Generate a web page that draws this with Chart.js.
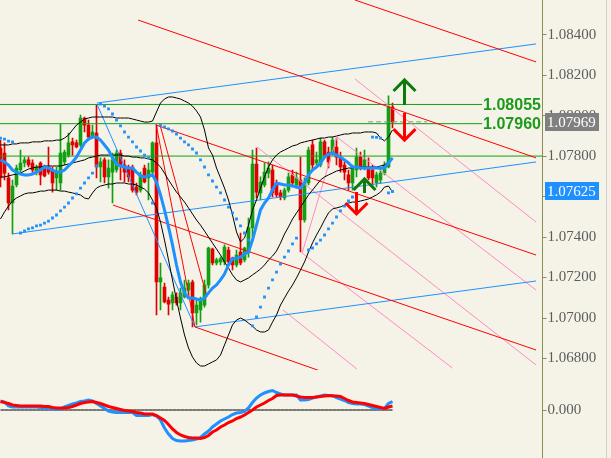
<!DOCTYPE html>
<html lang="en">
<head>
    <meta charset="UTF-8">
    <title>EURUSD chart</title>
    <script src="https://cdn.jsdelivr.net/npm/chart.js"></script>
    <style>
        body {
            margin: 0;
            background-color: #f5f3e7;
            overflow: hidden;
        }

        .panel {
            position: absolute;
            left: 0;
        }
    </style>
</head>
<body>

    <canvas id="mainChart" class="panel" width="611" height="370" style="top:0"></canvas>
    <canvas id="macdChart" class="panel" width="611" height="88" style="top:370px"></canvas>

    <script>
        // Candles, one per bar
        const opens = [
            1.07840, 1.07815, 1.07692, 1.07568, 1.07657, 1.07731, 1.07766, 1.07781, 1.07766, 1.07721,
            1.07766, 1.07741, 1.07746, 1.07731, 1.07692, 1.07667, 1.07771, 1.07805, 1.07870, 1.07865,
            1.07855, 1.07988, 1.07953, 1.07894, 1.07914, 1.07746, 1.07781, 1.07697, 1.07721, 1.07731,
            1.07815, 1.07756, 1.07741, 1.07746, 1.07647, 1.07632, 1.07741, 1.07692, 1.07721, 1.07865,
            1.07178, 1.07153, 1.07089, 1.07074, 1.07104, 1.07074, 1.07104, 1.07138, 1.07178, 1.07025,
            1.07040, 1.07064, 1.07163, 1.07341, 1.07272, 1.07277, 1.07277, 1.07336, 1.07296, 1.07262,
            1.07326, 1.07287, 1.07326, 1.07445, 1.07761, 1.07618, 1.07657, 1.07716, 1.07731, 1.07667,
            1.07618, 1.07593, 1.07632, 1.07707, 1.07657, 1.07682, 1.07484, 1.07667, 1.07855, 1.07766,
            1.07756, 1.07870, 1.07820, 1.07815, 1.07845, 1.07791, 1.07756, 1.07707, 1.07667, 1.07731,
            1.07795, 1.07741, 1.07741, 1.07731, 1.07667, 1.07682, 1.07716, 1.07746, 1.08042
        ];
        const highs = [
            1.07879, 1.07865, 1.07716, 1.07682, 1.07756, 1.07830, 1.07795, 1.07795, 1.07781, 1.07756,
            1.07771, 1.07756, 1.07845, 1.07746, 1.07746, 1.07958, 1.07830, 1.07914, 1.07889, 1.07879,
            1.08003, 1.07993, 1.07978, 1.07953, 1.08052, 1.07791, 1.07791, 1.07781, 1.07815, 1.07830,
            1.07830, 1.07781, 1.07756, 1.07756, 1.07667, 1.07721, 1.07756, 1.07766, 1.07870, 1.07953,
            1.07272, 1.07173, 1.07104, 1.07129, 1.07124, 1.07148, 1.07188, 1.07188, 1.07188, 1.07089,
            1.07104, 1.07188, 1.07351, 1.07346, 1.07296, 1.07301, 1.07361, 1.07351, 1.07301, 1.07336,
            1.07420, 1.07351, 1.07494, 1.07830, 1.07840, 1.07697, 1.07766, 1.07771, 1.07756, 1.07682,
            1.07632, 1.07642, 1.07716, 1.07731, 1.07721, 1.07795, 1.07692, 1.07845, 1.07879, 1.07820,
            1.07889, 1.07879, 1.07845, 1.07894, 1.07889, 1.07820, 1.07771, 1.07731, 1.07756, 1.07840,
            1.07820, 1.07830, 1.07791, 1.07756, 1.07721, 1.07741, 1.07771, 1.08097, 1.08062
        ];
        const lows = [
            1.07647, 1.07682, 1.07534, 1.07415, 1.07647, 1.07721, 1.07746, 1.07746, 1.07721, 1.07707,
            1.07657, 1.07697, 1.07711, 1.07622, 1.07632, 1.07632, 1.07756, 1.07795, 1.07805, 1.07840,
            1.07845, 1.07919, 1.07889, 1.07889, 1.07692, 1.07672, 1.07667, 1.07642, 1.07568, 1.07721,
            1.07682, 1.07672, 1.07672, 1.07622, 1.07608, 1.07622, 1.07667, 1.07583, 1.07711, 1.07015,
            1.07040, 1.07074, 1.07015, 1.07040, 1.07064, 1.07040, 1.07099, 1.07114, 1.06956, 1.06966,
            1.06980, 1.07054, 1.07148, 1.07262, 1.07262, 1.07262, 1.07262, 1.07262, 1.07237, 1.07252,
            1.07262, 1.07277, 1.07301, 1.07400, 1.07593, 1.07583, 1.07647, 1.07692, 1.07598, 1.07598,
            1.07583, 1.07583, 1.07622, 1.07657, 1.07642, 1.07326, 1.07474, 1.07657, 1.07731, 1.07756,
            1.07746, 1.07795, 1.07741, 1.07805, 1.07756, 1.07721, 1.07682, 1.07632, 1.07632, 1.07697,
            1.07731, 1.07731, 1.07682, 1.07647, 1.07647, 1.07667, 1.07707, 1.07741, 1.07939
        ];
        const closes = [
            1.07692, 1.07716, 1.07568, 1.07652, 1.07741, 1.07766, 1.07781, 1.07756, 1.07731, 1.07746,
            1.07707, 1.07702, 1.07721, 1.07667, 1.07721, 1.07815, 1.07820, 1.07865, 1.07855, 1.07845,
            1.07988, 1.07953, 1.07894, 1.07919, 1.07746, 1.07771, 1.07697, 1.07741, 1.07781, 1.07815,
            1.07756, 1.07721, 1.07697, 1.07632, 1.07622, 1.07707, 1.07672, 1.07731, 1.07865, 1.07178,
            1.07198, 1.07079, 1.07069, 1.07114, 1.07074, 1.07124, 1.07148, 1.07173, 1.07025, 1.07064,
            1.07089, 1.07163, 1.07346, 1.07272, 1.07287, 1.07292, 1.07351, 1.07277, 1.07262, 1.07311,
            1.07272, 1.07346, 1.07445, 1.07761, 1.07622, 1.07672, 1.07721, 1.07741, 1.07618, 1.07608,
            1.07598, 1.07632, 1.07697, 1.07667, 1.07692, 1.07484, 1.07667, 1.07830, 1.07756, 1.07781,
            1.07870, 1.07805, 1.07771, 1.07879, 1.07795, 1.07746, 1.07721, 1.07667, 1.07741, 1.07795,
            1.07746, 1.07781, 1.07692, 1.07692, 1.07707, 1.07716, 1.07756, 1.08042, 1.07969
        ];

        // Moving average (blue, thick)
        const maLine = [
            1.07781, 1.07771, 1.07756, 1.07731, 1.07721, 1.07711, 1.07707, 1.07707, 1.07711, 1.07721,
            1.07731, 1.07746, 1.07741, 1.07731, 1.07721, 1.07721, 1.07731, 1.07751, 1.07771, 1.07795,
            1.07830, 1.07865, 1.07884, 1.07894, 1.07894, 1.07879, 1.07855, 1.07830, 1.07791, 1.07761,
            1.07751, 1.07746, 1.07741, 1.07741, 1.07721, 1.07702, 1.07697, 1.07702, 1.07707, 1.07672,
            1.07608, 1.07534, 1.07450, 1.07361, 1.07262, 1.07178, 1.07124, 1.07099, 1.07099, 1.07094,
            1.07089, 1.07099, 1.07124, 1.07148, 1.07163, 1.07188, 1.07217, 1.07262, 1.07292, 1.07296,
            1.07301, 1.07316, 1.07326, 1.07385, 1.07459, 1.07534, 1.07568, 1.07593, 1.07632, 1.07667,
            1.07662, 1.07657, 1.07657, 1.07652, 1.07647, 1.07642, 1.07667, 1.07707, 1.07731, 1.07746,
            1.07766, 1.07795, 1.07810, 1.07815, 1.07805, 1.07795, 1.07781, 1.07766, 1.07746, 1.07746,
            1.07741, 1.07741, 1.07741, 1.07741, 1.07741, 1.07741, 1.07741, 1.07766, 1.07791
        ];

        // Bollinger bands
        const bbUpper = [
            1.07855, 1.07855, 1.07855, 1.07860, 1.07860, 1.07865, 1.07865, 1.07865, 1.07870, 1.07870,
            1.07870, 1.07875, 1.07875, 1.07875, 1.07879, 1.07879, 1.07889, 1.07904, 1.07929, 1.07953,
            1.07968, 1.07983, 1.07988, 1.07993, 1.07993, 1.07993, 1.07993, 1.07993, 1.07993, 1.07988,
            1.07988, 1.07988, 1.07988, 1.07983, 1.07978, 1.07973, 1.07968, 1.07968, 1.07973, 1.08018,
            1.08062, 1.08082, 1.08092, 1.08092, 1.08087, 1.08082, 1.08072, 1.08062, 1.08047, 1.08023,
            1.07993, 1.07929, 1.07840, 1.07805, 1.07741, 1.07692, 1.07642, 1.07583, 1.07509, 1.07425,
            1.07376, 1.07395, 1.07459, 1.07534, 1.07583, 1.07642, 1.07697, 1.07746, 1.07781, 1.07805,
            1.07820, 1.07830, 1.07840, 1.07850, 1.07855, 1.07865, 1.07870, 1.07875, 1.07879, 1.07884,
            1.07889, 1.07889, 1.07894, 1.07894, 1.07899, 1.07904, 1.07909, 1.07909, 1.07914, 1.07914,
            1.07914, 1.07919, 1.07919, 1.07919, 1.07914, 1.07889, 1.07875, 1.07894, 1.07929
        ];
        const bbMiddle = [
            1.07697, 1.07697, 1.07702, 1.07707, 1.07711, 1.07716, 1.07726, 1.07736, 1.07741, 1.07746,
            1.07746, 1.07751, 1.07751, 1.07751, 1.07751, 1.07751, 1.07756, 1.07761, 1.07766, 1.07771,
            1.07776, 1.07781, 1.07791, 1.07795, 1.07800, 1.07805, 1.07805, 1.07805, 1.07805, 1.07805,
            1.07805, 1.07800, 1.07800, 1.07795, 1.07795, 1.07791, 1.07791, 1.07786, 1.07781, 1.07766,
            1.07746, 1.07716, 1.07682, 1.07652, 1.07622, 1.07598, 1.07573, 1.07544, 1.07514, 1.07484,
            1.07459, 1.07430, 1.07400, 1.07370, 1.07341, 1.07311, 1.07277, 1.07247, 1.07213, 1.07188,
            1.07178, 1.07188, 1.07198, 1.07213, 1.07227, 1.07242, 1.07262, 1.07287, 1.07306, 1.07331,
            1.07370, 1.07415, 1.07450, 1.07489, 1.07519, 1.07548, 1.07578, 1.07608, 1.07632, 1.07657,
            1.07682, 1.07697, 1.07707, 1.07716, 1.07726, 1.07731, 1.07736, 1.07741, 1.07741, 1.07746,
            1.07746, 1.07746, 1.07746, 1.07746, 1.07746, 1.07751, 1.07756, 1.07771, 1.07791
        ];
        const bbLower = [
            1.07489, 1.07524, 1.07553, 1.07578, 1.07593, 1.07603, 1.07613, 1.07618, 1.07618, 1.07622,
            1.07627, 1.07627, 1.07632, 1.07632, 1.07632, 1.07627, 1.07627, 1.07622, 1.07618, 1.07613,
            1.07608, 1.07593, 1.07588, 1.07618, 1.07642, 1.07652, 1.07657, 1.07662, 1.07662, 1.07667,
            1.07667, 1.07667, 1.07662, 1.07662, 1.07657, 1.07647, 1.07637, 1.07618, 1.07583, 1.07544,
            1.07474, 1.07385, 1.07287, 1.07188, 1.07089, 1.07000, 1.06916, 1.06852, 1.06807, 1.06778,
            1.06763, 1.06763, 1.06773, 1.06783, 1.06793, 1.06817, 1.06867, 1.06916, 1.06966, 1.06990,
            1.07000, 1.06990, 1.06975, 1.06960, 1.06941, 1.06931, 1.06931, 1.06941, 1.06980, 1.07015,
            1.07064, 1.07099, 1.07133, 1.07163, 1.07198, 1.07237, 1.07277, 1.07326, 1.07371, 1.07410,
            1.07445, 1.07484, 1.07519, 1.07539, 1.07544, 1.07549, 1.07558, 1.07568, 1.07573, 1.07573,
            1.07578, 1.07583, 1.07588, 1.07598, 1.07608, 1.07622, 1.07647, 1.07652, 1.07622
        ];

        // Parabolic SAR dots (null = no dot)
        const sarDots = [
            1.07889, 1.07884, 1.07874, 1.07870, null, 1.07420, 1.07430, 1.07440, 1.07445, 1.07455,
            1.07459, 1.07469, 1.07479, 1.07494, 1.07509, 1.07529, 1.07548, 1.07568, 1.07593, 1.07613,
            1.07642, 1.07667, 1.07692, 1.07716, 1.07751, 1.08057, 1.08047, 1.08033, 1.08008, 1.07978,
            1.07949, 1.07919, 1.07894, 1.07870, 1.07845, 1.07825, 1.07805, 1.07791, 1.07568, null,
            1.07953, 1.07944, 1.07934, 1.07924, 1.07909, 1.07889, 1.07870, 1.07855, 1.07835, 1.07815,
            1.07781, 1.07746, 1.07707, 1.07677, 1.07647, 1.07618, 1.07583, 1.07548, 1.07519, 1.07489,
            1.07455, 1.07420, 1.07385, 1.06961, 1.07005, 1.07054, 1.07104, 1.07148, 1.07188, 1.07227,
            1.07267, 1.07301, 1.07331, 1.07366, 1.07395, null, null, 1.07336, 1.07346, 1.07366,
            1.07385, 1.07410, 1.07440, 1.07469, 1.07499, 1.07529, 1.07553, 1.07578, 1.07598, null,
            null, null, null, 1.07894, 1.07892, 1.07889, null, 1.07618, 1.07625
        ];

        // MACD panel
        const macdMain = [
            0.00018, 0.00016, 0.00008, 0.00006, 0.00006, 0.00006, 0.00006, 0.00006, 0.00006, 0.00006,
            0.00005, 0.00004, 0.00004, 0.00003, 0.00001, 0.00002, 0.00006, 0.00009, 0.00012, 0.00014,
            0.00017, 0.00018, 0.00020, 0.00018, 0.00013, 0.00008, 0.00003, -0.00002, -0.00004, -0.00005,
            -0.00005, -0.00005, -0.00005, -0.00005, -0.00011, -0.00011, -0.00011, -0.00011, -0.00009, -0.00012,
            -0.00020, -0.00036, -0.00048, -0.00057, -0.00061, -0.00062, -0.00062, -0.00061, -0.00060, -0.00058,
            -0.00055, -0.00048, -0.00042, -0.00034, -0.00028, -0.00022, -0.00018, -0.00014, -0.00009, -0.00006,
            -0.00005, -0.00003, 0.00004, 0.00015, 0.00024, 0.00030, 0.00034, 0.00037, 0.00039, 0.00035,
            0.00032, 0.00030, 0.00030, 0.00030, 0.00030, 0.00020, 0.00020, 0.00021, 0.00024, 0.00026,
            0.00028, 0.00030, 0.00029, 0.00029, 0.00025, 0.00022, 0.00019, 0.00015, 0.00013, 0.00012,
            0.00012, 0.00011, 0.00008, 0.00005, 0.00003, 0.00003, 0.00003, 0.00013, 0.00017
        ];
        const macdSignal = [
            0.00017, 0.00015, 0.00013, 0.00010, 0.00009, 0.00008, 0.00008, 0.00008, 0.00008, 0.00008,
            0.00008, 0.00007, 0.00007, 0.00005, 0.00004, 0.00004, 0.00004, 0.00005, 0.00007, 0.00010,
            0.00013, 0.00015, 0.00016, 0.00017, 0.00015, 0.00013, 0.00010, 0.00007, 0.00005, 0.00003,
            0.00001, -0.00001, -0.00002, -0.00003, -0.00005, -0.00006, -0.00008, -0.00008, -0.00008, -0.00011,
            -0.00016, -0.00021, -0.00029, -0.00038, -0.00045, -0.00050, -0.00053, -0.00055, -0.00056, -0.00056,
            -0.00057, -0.00055, -0.00051, -0.00044, -0.00040, -0.00034, -0.00030, -0.00025, -0.00022, -0.00017,
            -0.00014, -0.00010, -0.00005, 0.00000, 0.00006, 0.00010, 0.00014, 0.00019, 0.00023, 0.00029,
            0.00030, 0.00030, 0.00030, 0.00030, 0.00028, 0.00026, 0.00025, 0.00025, 0.00025, 0.00026,
            0.00027, 0.00028, 0.00029, 0.00028, 0.00028, 0.00027, 0.00023, 0.00019, 0.00016, 0.00015,
            0.00014, 0.00013, 0.00011, 0.00009, 0.00007, 0.00005, 0.00003, 0.00006, 0.00008
        ];

        // Axis ticks
        const priceTicks = [1.068, 1.070, 1.072, 1.074, 1.076, 1.078, 1.080, 1.082, 1.084];
        const macdTicks = [0];

        // Horizontal levels: price and last bar they reach
        const levelPrices = [1.08055, 1.07960, 1.07800];
        const levelEnds = [120.4, 120.4, 135.5];
        const labelledLevels = [1.08055, 1.07960];

        // Bid line and right-axis price boxes
        const bidPrice = 1.07969;
        const bidSpan = [91.9, 106.6];
        const sarPrice = 1.07625;

        // Drawn objects as [bar1, price1, bar2, price2]
        const blueLines = [
            [24.1, 1.08062, 133.9, 1.08354],
            [2.9, 1.07415, 133.9, 1.07771],
            [48.6, 1.06956, 133.9, 1.07183],
            [24.1, 1.08057, 48.6, 1.06956]
        ];
        const redLines = [
            [88.6, 1.08571, 133.9, 1.08265],
            [34.4, 1.08472, 133.9, 1.07791],
            [38.9, 1.07953, 133.9, 1.07311],
            [28.1, 1.07558, 133.9, 1.06842],
            [48.6, 1.06956, 80.0, 1.06738],
            [38.9, 1.07958, 48.6, 1.06956],
            [39.9, 1.07953, 51.6, 1.07104]
        ];
        const pinkLines = [
            [75.4, 1.07321, 84.1, 1.07894],
            [64.1, 1.07845, 133.9, 1.06768],
            [84.1, 1.07894, 133.9, 1.07138],
            [75.4, 1.07321, 113.0, 1.06753],
            [88.6, 1.08181, 133.9, 1.07474],
            [70.6, 1.07040, 89.1, 1.06748]
        ];

        // Signal arrows: tip position and direction
        const arrowBars = [100.9, 100.9, 90.9, 88.9];
        const arrowPrices = [1.08176, 1.07879, 1.07687, 1.07514];
        const arrowDirs = ['up', 'down', 'up', 'down'];

        // ---- styles ----
        const GREEN = '#12a012';
        const GREEN_TEXT = '#1c9a1c';
        const GREEN_ARROW = '#0c7a0c';
        const RED = '#ff0000';
        const RED_CANDLE = '#e00000';
        const BLUE = '#1e90ff';
        const PINK = '#ff8ac6';
        const AXIS = '#8c8c55';
        const LABEL = '#5c5c5c';
        const ARROW_SHAFT = [25, 27, 14, 22];
        const ARROW_HEAD = 11;

        Chart.defaults.font.family = '"Liberation Serif", serif';

        const bars = closes.map((c, i) => i);
        const pts = arr => arr.map((v, i) => ({ x: i, y: v })).filter(p => p.y !== null);
        const seg = s => [{ x: s[0], y: s[1] }, { x: s[2], y: s[3] }];
        const candleColors = bars.map(i => closes[i] >= opens[i] ? GREEN : RED_CANDLE);

        function lineSet(data, color, width, order, dash) {
            return {
                type: 'line', data: data, borderColor: color, borderWidth: width,
                borderDash: dash || [], pointRadius: 0, fill: false, tension: 0,
                order: order
            };
        }

        function rightAxis(min, max, tickValues, fmt) {
            return {
                position: 'right', min: min, max: max,
                border: { display: true, color: AXIS, width: 1 },
                grid: { drawOnChartArea: false, drawTicks: true, tickLength: 4, color: AXIS },
                ticks: {
                    padding: 1, color: LABEL, font: { size: 15 },
                    callback: v => v.toFixed(fmt)
                },
                afterBuildTicks: s => { s.ticks = tickValues.map(v => ({ value: v })); },
                afterFit: s => { s.width = 68.5; s.paddingTop = 0; s.paddingBottom = 0; }
            };
        }

        const xAxis = { type: 'linear', min: -0.125, max: 135.5, offset: false, display: false };

        // right frame line shared by both panels
        const framePlugin = {
            id: 'frame',
            afterDraw(chart) {
                const ctx = chart.ctx;
                ctx.save();
                ctx.strokeStyle = '#cfcfcf';
                ctx.lineWidth = 1;
                ctx.beginPath();
                ctx.moveTo(606.5, 0);
                ctx.lineTo(606.5, chart.height);
                ctx.stroke();
                ctx.restore();
            }
        };

        // level labels, arrows and price boxes on the main panel
        const overlayPlugin = {
            id: 'overlay',
            afterDraw(chart) {
                const ctx = chart.ctx;
                const xs = chart.scales.x, ys = chart.scales.y;
                ctx.save();

                ctx.font = 'bold 16px "Liberation Sans", Arial, sans-serif';
                ctx.fillStyle = GREEN_TEXT;
                ctx.textAlign = 'left';
                ctx.textBaseline = 'middle';
                labelledLevels.forEach(v => {
                    const i = levelPrices.indexOf(v);
                    ctx.fillText(v.toFixed(5), xs.getPixelForValue(levelEnds[i]) + 1, ys.getPixelForValue(v) + 1);
                });

                ctx.lineWidth = 3;
                ctx.lineCap = 'butt';
                ctx.lineJoin = 'miter';
                arrowBars.forEach((b, k) => {
                    const tx = Math.round(xs.getPixelForValue(b)) + 0.5;
                    const ty = ys.getPixelForValue(arrowPrices[k]);
                    const d = arrowDirs[k] === 'up' ? 1 : -1;
                    ctx.strokeStyle = d === 1 ? GREEN_ARROW : RED;
                    ctx.beginPath();
                    ctx.moveTo(tx - ARROW_HEAD, ty + d * ARROW_HEAD);
                    ctx.lineTo(tx, ty);
                    ctx.lineTo(tx + ARROW_HEAD, ty + d * ARROW_HEAD);
                    ctx.moveTo(tx, ty);
                    ctx.lineTo(tx, ty + d * ARROW_SHAFT[k]);
                    ctx.stroke();
                });

                const boxes = [[bidPrice, '#808080'], [sarPrice, BLUE]];
                ctx.font = '15px "Liberation Serif", serif';
                boxes.forEach(bx => {
                    const py = ys.getPixelForValue(bx[0]);
                    ctx.fillStyle = bx[1];
                    ctx.fillRect(545, Math.round(py - 9), 54, 18);
                    ctx.fillStyle = '#ffffff';
                    ctx.fillText(bx[0].toFixed(5), 547, py + 1);
                });

                ctx.restore();
            }
        };

        const mainSets = [
            {
                type: 'bar', data: bars.map(i => ({ x: i, y: [lows[i], highs[i]] })),
                backgroundColor: candleColors, barThickness: 1, grouped: false, order: 31
            },
            {
                type: 'bar', data: bars.map(i => ({ x: i, y: [opens[i], closes[i]] })),
                backgroundColor: candleColors, barThickness: 3, grouped: false,
                minBarLength: 1, order: 30
            }
        ];

        levelPrices.forEach((v, i) => {
            mainSets.push(lineSet([{ x: -0.125, y: v }, { x: levelEnds[i], y: v }], GREEN, 1, 12));
        });
        mainSets.push(lineSet([{ x: bidSpan[0], y: bidPrice }, { x: bidSpan[1], y: bidPrice }], '#8e8e8e', 1, 12, [5, 3]));
        pinkLines.forEach(s => mainSets.push(lineSet(seg(s), PINK, 1, 11)));
        redLines.forEach(s => mainSets.push(lineSet(seg(s), RED, 1, 10)));
        blueLines.forEach(s => mainSets.push(lineSet(seg(s), BLUE, 1, 10)));
        mainSets.push(lineSet(pts(bbUpper), '#000000', 1, 6));
        mainSets.push(lineSet(pts(bbMiddle), '#000000', 1, 6));
        mainSets.push(lineSet(pts(bbLower), '#000000', 1, 6));
        mainSets.push({
            type: 'line', data: pts(sarDots), showLine: false, pointStyle: 'rect',
            pointRadius: 2, pointBackgroundColor: BLUE, pointBorderWidth: 0, order: 5
        });
        mainSets.push(lineSet(pts(maLine), BLUE, 3, 4));

        const mainChart = new Chart(document.getElementById('mainChart'), {
            type: 'bar',
            data: { datasets: mainSets },
            options: {
                responsive: false,
                animation: false,
                devicePixelRatio: 1,
                events: [],
                layout: { padding: 0, autoPadding: false },
                plugins: { legend: { display: false }, tooltip: { enabled: false } },
                scales: {
                    x: xAxis,
                    y: rightAxis(1.067432, 1.08571, priceTicks, 5)
                }
            },
            plugins: [overlayPlugin, framePlugin]
        });

        const macdChart = new Chart(document.getElementById('macdChart'), {
            type: 'line',
            data: {
                datasets: [
                    lineSet(bars.map(i => ({ x: i, y: 0 })), '#000000', 1, 3),
                    lineSet(pts(macdMain), BLUE, 3, 2),
                    lineSet(pts(macdSignal), RED, 3, 1)
                ]
            },
            options: {
                responsive: false,
                animation: false,
                devicePixelRatio: 1,
                events: [],
                layout: { padding: 0, autoPadding: false },
                plugins: { legend: { display: false }, tooltip: { enabled: false } },
                scales: {
                    x: xAxis,
                    y: rightAxis(-0.00096, 0.0008, macdTicks, 3)
                }
            },
            plugins: [framePlugin]
        });
    </script>

</body>
</html>
